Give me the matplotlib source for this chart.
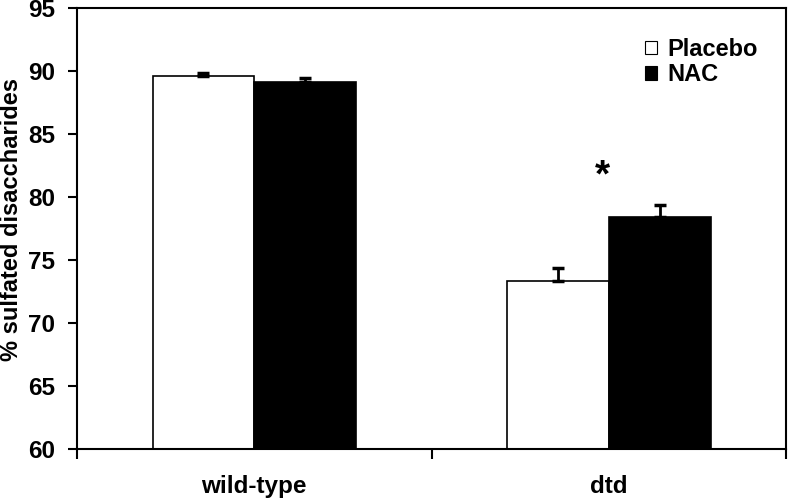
import numpy as np
import matplotlib.pyplot as plt
from matplotlib.patches import Patch

plt.rcParams['font.family'] = ['Liberation Sans', 'DejaVu Sans']
plt.rcParams['font.weight'] = 'bold'

# data
groups = ['wild-type', 'dtd']
placebo = [89.6, 73.3]
placebo_err = [0.25, 1.1]
nac = [89.1, 78.4]
nac_err = [0.35, 1.0]
series = ['Placebo', 'NAC']

fig = plt.figure(figsize=(7.88, 5), dpi=100)
ax = fig.add_axes([0.0977, 0.102, 0.8998, 0.882])

x = np.arange(len(groups))
w = 0.287
base = 60
ax.bar(x - w / 2, np.array(placebo) - base, w, bottom=base, color='white',
       edgecolor='black', linewidth=1.2)
ax.bar(x + w / 2, np.array(nac) - base, w, bottom=base, color='black',
       edgecolor='black', linewidth=1.2)
ax.errorbar(x - w / 2, placebo, yerr=[np.zeros(2), placebo_err], fmt='none',
            ecolor='black', elinewidth=2, capsize=4, capthick=2.5)
ax.errorbar(x + w / 2, nac, yerr=[np.zeros(2), nac_err], fmt='none',
            ecolor='black', elinewidth=2, capsize=4, capthick=2.5)

# significance marker
ax.text(x[1] - 0.017, 81.6, '*', ha='center', va='center', fontsize=28,
        fontweight='bold')

fs = 17.5
ax.set_xlim(-0.5, 1.5)
ax.set_ylim(60, 95)
ax.set_yticks(np.arange(60, 96, 5))
ax.set_xticks(x)
ax.set_xticklabels(groups, fontsize=fs, fontweight='bold')
ax.set_xticks([-0.5, 0.5, 1.5], minor=True)
ax.tick_params(axis='x', which='major', length=0, pad=19)
ax.tick_params(axis='x', which='minor', length=7, width=1.5, direction='out')
ax.tick_params(axis='y', length=6.5, width=1.5, labelsize=fs, pad=9)
for lab in ax.get_yticklabels():
    lab.set_fontweight('bold')
for s in ax.spines.values():
    s.set_linewidth(1.5)
ax.set_ylabel('% sulfated disaccharides', fontsize=17, fontweight='bold')
ax.yaxis.set_label_coords(-0.076, 0.52)

handles = [Patch(facecolor='white', edgecolor='black', linewidth=0.8),
           Patch(facecolor='black', edgecolor='black', linewidth=0.8)]
ax.legend(handles, series, loc='upper right', bbox_to_anchor=(0.99, 0.98),
          frameon=False, handlelength=0.5, handleheight=0.5,
          handletextpad=0.45, labelspacing=0.1,
          prop={'weight': 'bold', 'size': 17})

fig.savefig('out.png', dpi=100)
